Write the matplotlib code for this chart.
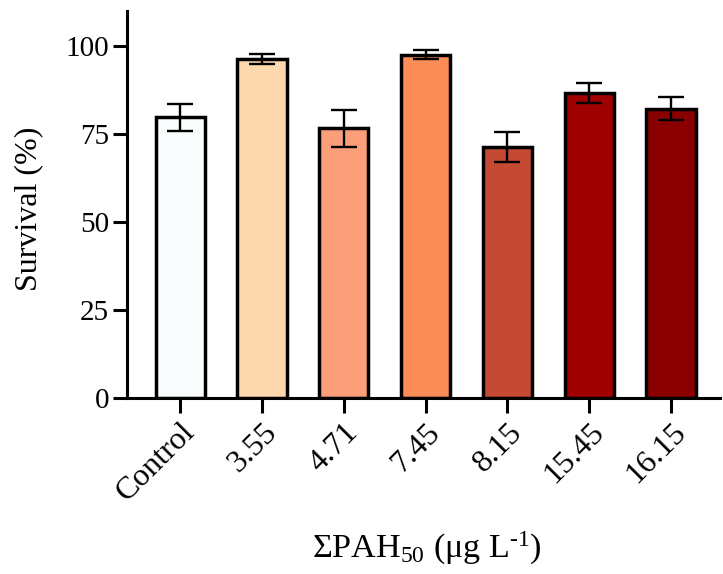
import matplotlib
matplotlib.use("Agg")
import matplotlib.pyplot as plt
import numpy as np

categories = ["Control", "3.55", "4.71", "7.45", "8.15", "15.45", "16.15"]
survival = [79.8, 96.3, 76.6, 97.6, 71.4, 86.6, 82.2]
errors = [3.8, 1.5, 5.3, 1.4, 4.3, 2.8, 3.3]
colors = ["#FAFDFD", "#FDD8AE", "#FC9E7A", "#FC8C58", "#C54A34", "#A00000", "#8A0000"]

plt.rcParams['font.family'] = ['Liberation Serif', 'DejaVu Serif']
plt.rcParams['mathtext.fontset'] = 'custom'
plt.rcParams['mathtext.rm'] = 'Liberation Serif'
plt.rcParams['mathtext.default'] = 'regular'

fig = plt.figure(figsize=(7.23, 5.74), dpi=100)
ax = fig.add_axes([0.1757, 0.3066, 0.8203, 0.6744])

x = np.arange(len(categories))
ax.bar(x, survival, width=0.6, color=colors, edgecolor="black", linewidth=2.5, zorder=2)
ax.errorbar(x, survival, yerr=errors, fmt="none", ecolor="black", elinewidth=1.7,
            capsize=9.5, capthick=1.7, zorder=3)

ax.set_xlim(-0.65, 6.6)
ax.set_ylim(0, 110)
ax.set_yticks([0, 25, 50, 75, 100])
ax.set_xticks(x)
ax.set_xticklabels(categories, rotation=45, ha="right", rotation_mode="anchor")

for s in ["top", "right"]:
    ax.spines[s].set_visible(False)
for s in ["left", "bottom"]:
    ax.spines[s].set_linewidth(2.2)

ax.tick_params(axis="y", width=2.2, length=10, labelsize=21, pad=3)
ax.tick_params(axis="x", width=2.2, length=11, labelsize=23, pad=3)

ax.set_ylabel("Survival (%)", fontsize=23)
ax.yaxis.set_label_coords(-0.142, 0.49)
ax.set_xlabel(r"ΣPAH$_{50}$ (μg L$^{\text{-1}}$)", fontsize=24.5)
ax.xaxis.set_label_coords(0.505, -0.342)

fig.savefig("out.png", dpi=100)
